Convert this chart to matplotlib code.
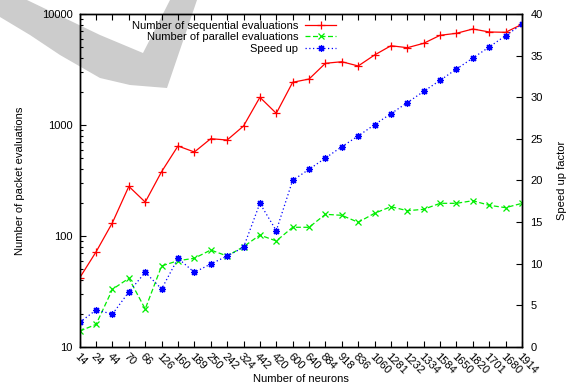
import matplotlib
matplotlib.use('Agg')
import matplotlib.pyplot as plt
from matplotlib.patches import Polygon

plt.rcParams['font.family'] = ['Liberation Sans', 'DejaVu Sans']
plt.rcParams['font.size'] = 8

# data
neurons = ['14', '24', '44', '70', '66', '126', '160', '189', '250', '242', '324', '442', '420', '600',
           '640', '884', '918', '836', '1060', '1281', '1232', '1334', '1584', '1650', '1820', '1701',
           '1680', '1914']
sequential = [42, 72, 132, 280, 202, 380, 647, 571, 753, 732, 979, 1777, 1274, 2426,
              2594, 3597, 3716, 3402, 4272, 5178, 4970, 5447, 6429, 6700, 7328, 6886, 6843, 8076]
parallel = [13.9, 16.0, 33.1, 41.6, 22.0, 53.7, 59.9, 63, 74.8, 66, 80.1, 102, 90.2, 119.8,
            119.8, 156.8, 153.6, 132.9, 160.2, 183.6, 169, 174, 197, 197, 208, 189, 180, 197]
speedup = [2.97, 4.44, 3.96, 6.61, 8.97, 6.97, 10.65, 8.97, 9.97, 10.93, 11.97, 17.26, 13.97, 20.02,
           21.34, 22.70, 24.06, 25.35, 26.71, 28.03, 29.35, 30.71, 32.03, 33.39, 34.71, 36.04, 37.40, 38.76]

W, H = 569, 390
fig = plt.figure(figsize=(W / 100, H / 100), dpi=100)
fig.patch.set_facecolor('white')

# grey watermark stroke in the upper-left corner (pixel outline, y down)
wm = [(0, 0), (27, 0), (100, 35), (143, 53), (170, 0), (197, 0), (167, 88),
      (130, 85), (100, 78), (60, 55), (30, 35), (0, 17)]
fig.patches.append(Polygon([(x / W, 1 - y / H) for x, y in wm], closed=True,
                           transform=fig.transFigure, facecolor='#cccccc',
                           edgecolor='none', zorder=-1))

ax = fig.add_axes([79.7 / W, 1 - 347 / H, (522 - 79.7) / W, (347 - 14) / H])
ax.set_facecolor('none')
ax2 = ax.twinx()
ax2.set_facecolor('none')

x = list(range(len(neurons)))
l1, = ax.plot(x, sequential, color='#ff0000', lw=0.9, ls='-', marker='+', ms=6, mew=0.9,
              label='Number of sequential evaluations')
l2, = ax.plot(x, parallel, color='#00ee00', lw=0.9, ls=(0, (4, 2)), marker='x', ms=5, mew=0.9,
              label='Number of parallel evaluations')
l3, = ax2.plot(x, speedup, color='#0000ff', lw=0.9, ls=(0, (1, 2)), marker=(8, 2, 0), ms=5, mew=0.9,
               label='Speed up')

ax.set_yscale('log')
ax.set_ylim(10, 10000)
ax.set_xlim(0, len(neurons) - 1)
ax.set_xticks(x)
ax.set_xticklabels(neurons, rotation=-45, ha='left', va='top', rotation_mode='anchor')
ax.set_yticks([10, 100, 1000, 10000])
ax.set_yticklabels(['10', '100', '1000', '10000'])
ax.tick_params(axis='both', which='major', direction='in', length=4, width=0.8)
ax.tick_params(axis='y', which='minor', direction='in', length=2, width=0.8)
ax.tick_params(axis='x', top=True, pad=3)
ax.tick_params(axis='y', right=False, pad=5)

ax2.set_ylim(0, 40)
ax2.set_yticks(range(0, 41, 5))
ax2.tick_params(axis='y', direction='in', length=4, width=0.8, pad=6)

for a in (ax, ax2):
    for s in a.spines.values():
        s.set_linewidth(1.0)

ax.set_xlabel('Number of neurons')
ax.xaxis.set_label_coords(0.5, -0.08)
ax.set_ylabel('Number of packet evaluations', labelpad=12)
ax2.set_ylabel('Speed up factor', rotation=90, labelpad=10)

leg = ax2.legend(handles=[l1, l2, l3], loc='upper right', bbox_to_anchor=(0.595, 1.0),
                 frameon=False, markerfirst=False, numpoints=1, handlelength=2.8,
                 handletextpad=0.6, labelspacing=0.15, borderaxespad=0.2)

fig.savefig('out.png', dpi=100)
